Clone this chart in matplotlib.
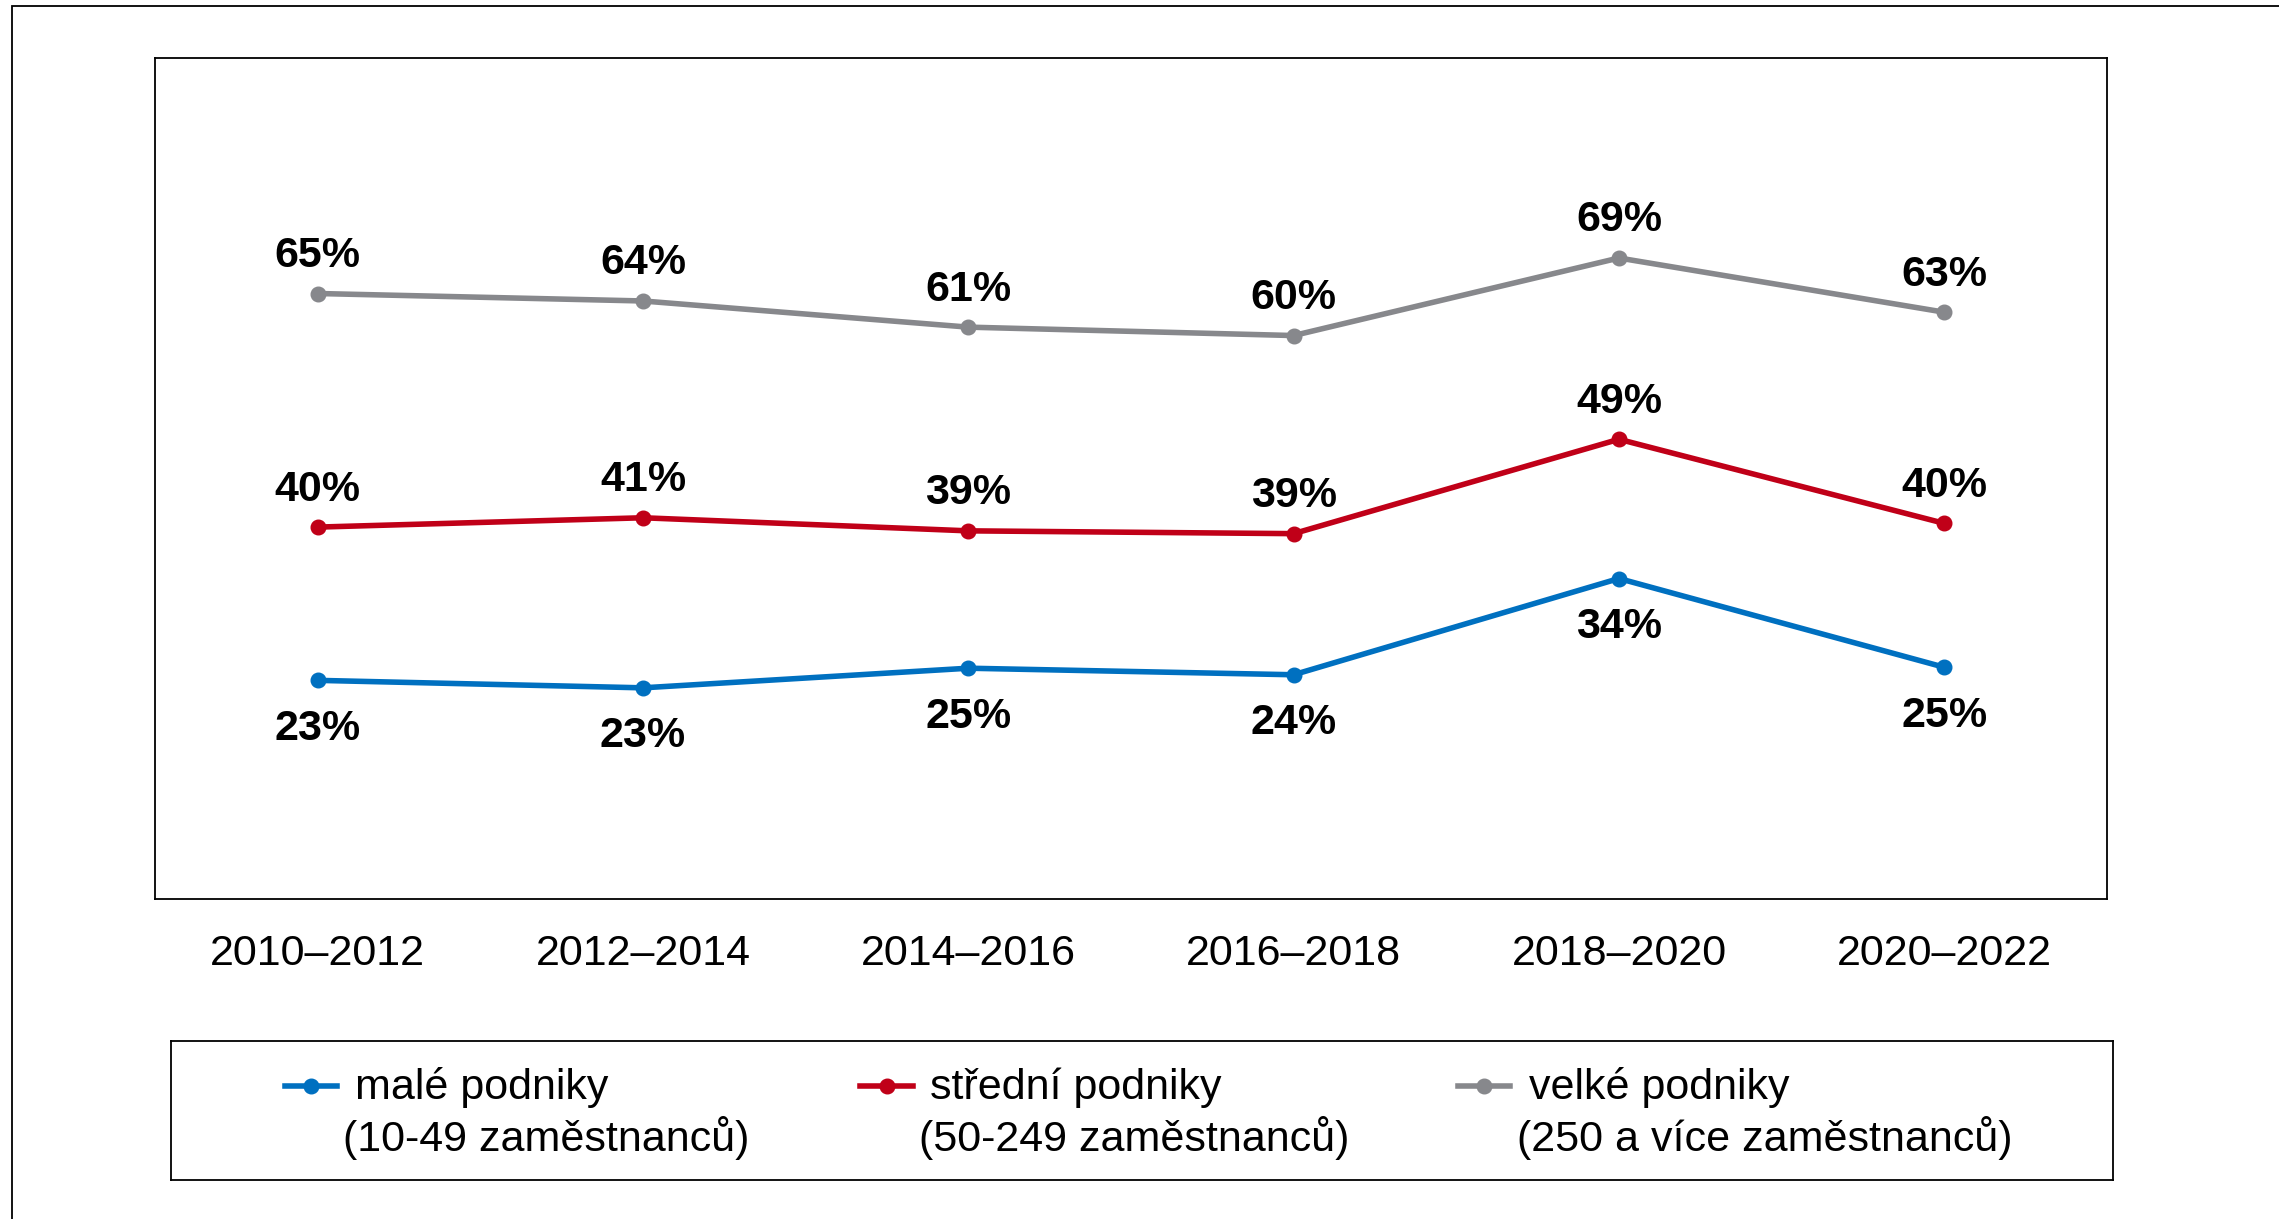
import matplotlib
matplotlib.use('Agg')
import matplotlib.pyplot as plt
from matplotlib.patches import Rectangle

plt.rcParams['font.family'] = ['Liberation Sans', 'DejaVu Sans']

# data
periods = ['2010–2012', '2012–2014', '2014–2016', '2016–2018', '2018–2020', '2020–2022']
male = [23.4, 22.6, 24.7, 24.0, 34.3, 24.8]       # 10-49 employees
stredni = [39.8, 40.8, 39.4, 39.1, 49.2, 40.2]    # 50-249 employees
velke = [64.8, 64.0, 61.2, 60.3, 68.6, 62.8]      # 250+ employees

names = ['malé podniky', 'střední podniky', 'velké podniky']
subnames = ['(10-49 zaměstnanců)', '(50-249 zaměstnanců)', '(250 a více zaměstnanců)']
colors = ['#0070C0', '#C00018', '#87888C']

fig = plt.figure(figsize=(22.79, 12.19), dpi=100)

# outer frame (cut off at right and bottom like in the original)
fig.add_artist(Rectangle((12 / 2279, -0.1), 1.2, 1.1 - 6 / 1219,
                         transform=fig.transFigure, fill=False,
                         edgecolor='black', lw=1.3))

ax = fig.add_axes([0.0680, 0.2625, 0.8565, 0.6899])
x = list(range(len(periods)))

series = [male, stredni, velke]
for vals, c, below in zip(series, colors, [True, False, False]):
    ax.plot(x, vals, color=c, lw=4, marker='o', markersize=10.5)
    for xi, v in zip(x, vals):
        off = -35 if below else 27
        ax.annotate('%d%%' % round(v), (xi, v), xytext=(0, off),
                    textcoords='offset points', ha='center', va='center',
                    fontsize=31, fontweight='bold', color='black')

ax.set_xlim(-0.5, 5.5)
ax.set_ylim(0, 90)
ax.set_xticks(x)
ax.set_xticklabels(periods, fontsize=31)
ax.set_yticks([])
ax.tick_params(axis='x', length=0, pad=25)
for s in ax.spines.values():
    s.set_color('black')
    s.set_linewidth(1.3)

# legend box
lax = fig.add_axes([171 / 2279, 0.032, 1942 / 2279, 0.114])
lax.set_xlim(0, 1)
lax.set_ylim(0, 1)
lax.set_xticks([])
lax.set_yticks([])
for s in lax.spines.values():
    s.set_color('black')
    s.set_linewidth(1.3)

hx = [(0.0587, 0.0855), (0.3548, 0.3821), (0.6627, 0.6895)]
t1x = [0.0947, 0.3908, 0.6993]
t2x = [0.0886, 0.3852, 0.6931]
for i in range(3):
    a, b = hx[i]
    lax.plot([a, b], [0.676, 0.676], color=colors[i], lw=4)
    lax.plot([(a + b) / 2], [0.676], color=colors[i], marker='o', markersize=10.5)
    lax.text(t1x[i], 0.666, names[i], fontsize=31, va='center', ha='left')
    lax.text(t2x[i], 0.30, subnames[i], fontsize=31, va='center', ha='left')

fig.savefig('out.png', dpi=100)
